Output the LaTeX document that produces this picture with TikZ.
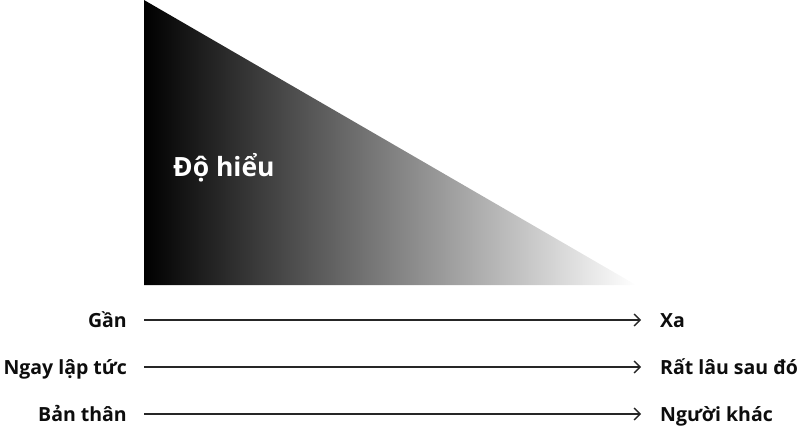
\documentclass[tikz,border=0pt]{standalone}
\usepackage{fontspec}
\setmainfont{Open Sans}
\usetikzlibrary{arrows.meta}
\begin{document}
\begin{tikzpicture}[x=1pt,y=-1pt,
  lbl/.style={font=\bfseries\fontsize{19.5}{22}\selectfont, inner sep=0pt, text=black!95},
  arr/.style={draw=black!85, line width=1.3pt, -{Straight Barb[length=6pt,width=12pt,line width=1.3pt]}}]
\useasboundingbox (0,0) rectangle (800,431);
\shade[left color=black, right color=white] (144,0) -- (144,285) -- (636,285) -- cycle;
\node[anchor=base west, inner sep=0pt, text=white, font=\bfseries\fontsize{26.5}{30}\selectfont] (title) at (173,176) {Độ hiểu};
\foreach \y/\a/\b/\n in {320/Gần/Xa/a, 367/Ngay lập tức/Rất lâu sau đó/b, 414/Bản thân/Người khác/c} {
  \node[lbl, anchor=base east] (l\n) at (127,\y+7) {\a};
  \node[lbl, anchor=base west] (r\n) at (660,\y+7) {\b};
  \coordinate (s\n) at (144,\y);
  \coordinate (e\n) at (641,\y);
  \draw[arr] (s\n) -- (e\n);
}
\end{tikzpicture}
\end{document}
